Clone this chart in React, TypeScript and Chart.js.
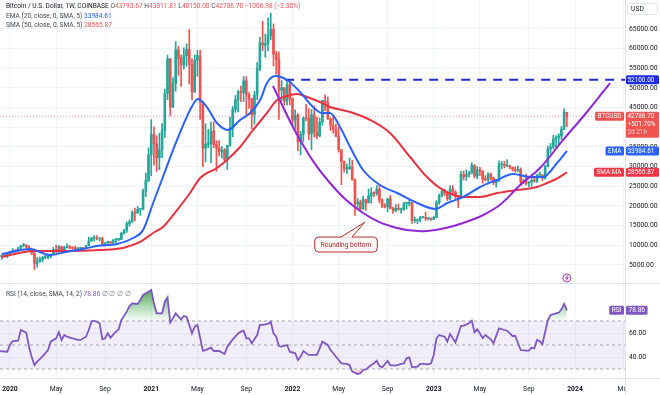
import React, { useEffect, useRef } from 'react';
import { Chart, registerables } from 'chart.js';

Chart.register(...registerables);

const FONT = "Roboto, 'Liberation Sans', Arial, sans-serif";

// Weekly candles, week index 0 = week of 2019-12-02 (Coinbase BTC/USD, 1W)
const closes = [
  7400, 7070, 7510, 7250, 7760, 8180, 8700, 8600, 9320, 9910,
  9930, 9660, 8530, 8030, 5360, 5830, 6420, 6870, 6900, 7130,
  7700, 8900, 8720, 9680, 8900, 9450, 9450, 9340, 9300, 9130,
  9250, 9250, 9170, 9930, 11050, 11850, 11910, 11660, 11710, 10280,
  10670, 10930, 10730, 11380, 11500, 11500, 13050, 13770, 15480, 15970,
  18410, 18180, 19150, 19250, 23840, 26470, 33000, 38200, 35800, 32280,
  34260, 39190, 48600, 57400, 45200, 51160, 59700, 57500, 55870, 58200,
  59800, 55970, 49000, 57000, 58240, 46420, 34700, 35700, 35800, 39100,
  35600, 34700, 33800, 34250, 31800, 35400, 39800, 44600, 47000, 49000,
  48800, 51800, 48300, 47300, 43200, 48200, 54900, 61500, 60900, 61300,
  63300, 64900, 58600, 57250, 49400, 50100, 46700, 50800, 47300, 41800,
  43100, 36300, 38200, 42400, 42200, 38350, 43200, 38800, 37800, 41300,
  46850, 46400, 42150, 40400, 39450, 37700, 34300, 31300, 29450, 29450,
  29900, 26600, 20550, 21000, 19300, 21600, 20800, 22600, 23300, 23200,
  24300, 21500, 20000, 19800, 21800, 19400, 18800, 19400, 19100, 19200,
  20600, 20600, 20900, 16300, 16300, 16450, 17100, 17100, 16800, 16850,
  16600, 17100, 20900, 22700, 23700, 23300, 21800, 24300, 23550, 22400,
  22100, 28000, 27500, 28000, 28300, 30300, 27600, 29200, 28900, 26900,
  26700, 28100, 27100, 25900, 26300, 30500, 30600, 30200, 30200, 29900,
  29300, 29000, 29300, 26100, 26000, 25800, 26100, 26500, 26300, 27900,
  27900, 27100, 30000, 34500, 35000, 37000, 37400, 37800, 39500, 43793.67,
  42786.7,
];
const highs = [
  7750, 7650, 7520, 7700, 7800, 8470, 9190, 8750, 9570, 9950,
  10500, 10250, 9950, 9180, 8180, 6940, 6990, 7200, 7470, 7290,
  7790, 9460, 10070, 9950, 9840, 9760, 10400, 9990, 9600, 9800,
  9380, 9480, 9330, 10000, 12100, 12000, 12480, 12470, 11800, 12090,
  10700, 11100, 10990, 11450, 11700, 11730, 13340, 14090, 15960, 16500,
  18800, 19480, 19920, 19420, 24300, 28400, 34800, 41950, 40100, 37850,
  38500, 40950, 49700, 58350, 57500, 52650, 61790, 60600, 58400, 60200,
  61200, 64850, 57500, 58400, 59600, 59600, 46600, 40900, 39500, 41300,
  41400, 36600, 36600, 35100, 34600, 35400, 42600, 45300, 48100, 49400,
  50500, 52900, 52900, 48800, 47300, 49200, 56500, 62900, 67000, 63700,
  67800, 69000, 66300, 59300, 59200, 51900, 49500, 52100, 52000, 47500,
  44450, 43500, 38950, 42600, 45850, 44750, 44500, 45400, 42600, 42400,
  46900, 48250, 47700, 42400, 42900, 40800, 40000, 34350, 31400, 30650,
  32200, 31600, 26900, 21900, 21500, 22500, 21600, 24300, 24650, 23600,
  25200, 25200, 21800, 20600, 21900, 22700, 19700, 20400, 20500, 19500,
  20900, 21000, 21500, 21000, 17200, 16700, 17400, 17400, 18400, 17000,
  16960, 17400, 21400, 23000, 23900, 24250, 23400, 25200, 25200, 23900,
  22600, 28800, 28900, 29200, 28800, 31000, 30500, 30000, 29800, 29000,
  27700, 28400, 28400, 27400, 26800, 31400, 31300, 31400, 31800, 30400,
  29600, 30000, 30200, 29700, 26800, 28100, 26200, 27400, 27500, 28000,
  28600, 27900, 30400, 35200, 35900, 37970, 37900, 38400, 40200, 44700,
  43811.81,
];
const lows = [
  7100, 7000, 6430, 7100, 6850, 7750, 8100, 8270, 8550, 9080,
  9620, 9300, 8450, 7640, 3850, 4450, 5670, 5860, 6620, 6550,
  6790, 7700, 8120, 8200, 8620, 8650, 9250, 9100, 9000, 8850,
  8950, 9100, 9060, 9140, 9900, 11100, 11100, 11360, 11120, 9880,
  9850, 10250, 10140, 10370, 10520, 11200, 11430, 12850, 13280, 14830,
  15800, 16200, 18200, 17600, 19000, 22400, 26100, 27700, 30400, 28800,
  29200, 32300, 37400, 47050, 43000, 45000, 49200, 53200, 50400, 54800,
  55500, 51000, 47000, 48800, 53000, 42000, 30000, 31200, 34800, 31000,
  34800, 28800, 32700, 32200, 31000, 29300, 35200, 37600, 43800, 43900,
  46500, 46600, 43000, 44800, 39600, 40800, 47000, 54400, 59500, 57800,
  59400, 62300, 55600, 53500, 42000, 46800, 45600, 45600, 45700, 40600,
  39600, 34000, 32950, 36300, 41600, 36800, 34300, 37500, 37100, 37600,
  40500, 44200, 42000, 39200, 38500, 37600, 33700, 25400, 28600, 28200,
  29300, 26600, 17600, 19600, 18600, 19100, 18900, 20800, 20700, 22400,
  22700, 20800, 19600, 19500, 18500, 19300, 18100, 18500, 18900, 18200,
  18900, 19200, 20000, 15600, 15800, 15500, 16000, 16900, 16300, 16400,
  16350, 16500, 17100, 20400, 22300, 22600, 21400, 21500, 22800, 21900,
  19600, 21900, 26600, 26500, 27300, 28300, 27200, 26950, 27700, 25800,
  26400, 26100, 26500, 25400, 24800, 26300, 29500, 29700, 29900, 29500,
  28900, 28600, 28700, 25200, 25700, 25300, 24900, 25000, 26000, 26000,
  27200, 26500, 26800, 29900, 33400, 34500, 34800, 35600, 36900, 39400,
  40150,
];
const FIRST_OPEN = 7550;

// Time axis
const tickWeeks = [5, 22, 40, 57, 74, 92, 109, 126, 144, 161, 178, 196, 213, 231];
const tickLabels = ['2020', 'May', 'Sep', '2021', 'May', 'Sep', '2022', 'May', 'Sep', '2023', 'May', 'Sep', '2024', 'May'];
const priceTicks = [5000, 10000, 15000, 20000, 25000, 30000, 35000, 40000, 45000, 50000, 55000, 60000, 65000];
const rsiTicks = [40, 60];

// EMA 20
const emaWeeks = [2, 12.4, 19.7, 26, 32, 37, 44.4, 50.3, 54, 57.7, 61.3, 66.5, 71.3, 74.2, 77.5, 81.2, 85.3, 89.7, 93.4, 97.1, 99.6, 102.6, 107, 111.8, 116.6, 119.9, 122.8, 126.5, 130.2, 135, 141.2, 147.5, 154.9, 161.5, 166, 171.8, 178.1, 184.3, 190.2, 196.5, 201.2, 206.4, 210];
const emaValues = [7800, 9070, 7540, 8380, 9070, 9830, 10340, 11860, 13900, 20760, 27370, 36780, 44400, 47200, 45160, 41100, 39320, 41860, 43640, 46940, 51260, 53040, 52030, 48980, 45160, 43640, 43640, 40080, 35000, 29150, 25340, 23300, 20760, 19240, 20760, 22290, 24830, 26610, 28130, 27370, 27370, 30930, 33984.61];

// SMA 50
const smaWeeks = [2, 13.5, 26, 38.1, 46.6, 52.9, 57.7, 61.3, 66.5, 71.3, 75, 81.2, 84.9, 89.7, 94.5, 99.6, 103.3, 107, 110.7, 114.4, 119.1, 122.8, 130.2, 137.6, 144.9, 152.3, 158.5, 164.4, 171.8, 178.1, 184.3, 191.7, 199, 202.7, 206.5, 210];
const smaValues = [7030, 8560, 8560, 8810, 9320, 10850, 13130, 14660, 18980, 23300, 27120, 29660, 31690, 35000, 39320, 43640, 46940, 47960, 48470, 47710, 46430, 45160, 43890, 41860, 38550, 32450, 27370, 24070, 22290, 22290, 23300, 24070, 24830, 25840, 27000, 28565.87];

// Hand-drawn "rounding bottom" arc
const arcWeeks = [101.8, 111.8, 122.8, 135, 147.5, 158.5, 171.8, 184.3, 192.8, 200.1, 208.6, 217.4, 225.9];
const arcValues = [50500, 36780, 25840, 18220, 14410, 13640, 15680, 19740, 25340, 29660, 36780, 43890, 51260];

// RSI 14
const rsiWeeks = [1, 4, 5, 6, 8, 9, 11, 12, 13, 14, 15, 17, 19, 20, 22, 23, 24, 25, 26, 28, 30, 31, 33, 34, 35, 36, 38, 39, 40, 41, 42, 44, 45, 46, 48, 49, 50, 52, 53, 54, 56, 57, 58, 59, 61, 62, 63, 64, 65, 66, 68, 69, 70, 72, 73, 74, 76, 77, 79, 80, 82, 84, 85, 87, 89, 90, 91, 92, 93, 94, 96, 97, 98, 100, 101, 102, 103, 104, 105, 107, 108, 110, 111, 112, 113, 115, 116, 118, 119, 120, 122, 123, 124, 126, 127, 129, 130, 131, 133, 134, 135, 136, 138, 139, 140, 141, 142, 144, 145, 147, 149, 150, 151, 152, 153, 155, 156, 157, 159, 160, 161, 162, 163, 165, 166, 167, 168, 169, 171, 172, 174, 175, 176, 177, 178, 179, 180, 182, 183, 185, 187, 188, 190, 191, 193, 195, 196, 197, 198, 199, 200, 201, 203, 204, 206, 207, 208, 209, 210];
const rsiValues = [45, 44.4, 50, 53.3, 53.6, 62.5, 60.3, 48.6, 40, 33.3, 36.1, 40.5, 45.8, 52.8, 55.6, 60.6, 54.2, 58.3, 56.9, 55.6, 54.2, 54.2, 56.9, 62.5, 69.4, 70.3, 68.1, 54.7, 55.6, 59.7, 56.1, 61.1, 63, 70.8, 77.8, 82.5, 84.7, 84.2, 87.5, 91.7, 94.4, 95.8, 84.7, 76.4, 76.4, 86.1, 89.7, 68.6, 72.2, 76.4, 71.4, 74.2, 73.6, 59.7, 65.3, 66.7, 45.3, 45.8, 47.8, 45, 45, 42.5, 48.6, 54.7, 59.7, 61.1, 61.9, 55.6, 55.6, 51.4, 58.3, 66.7, 66.7, 67.5, 69.4, 59.7, 56.9, 49.2, 48.6, 50, 44.4, 43.1, 37.5, 40.3, 45, 41.7, 41.7, 41.7, 47.2, 52.8, 50, 45.8, 43.1, 37.5, 34.7, 34.2, 33.3, 27.8, 25.8, 26.4, 29.2, 29.7, 33.3, 34.7, 36.9, 32.5, 31.4, 36.7, 33.3, 32.8, 34.2, 34.7, 38.9, 39.7, 31.4, 31.9, 34.2, 34.2, 33.9, 34.7, 41.7, 55.6, 58.3, 56.9, 52.8, 59.2, 55.6, 52.2, 65.8, 66.1, 68.1, 70.3, 60.6, 63.1, 59.7, 55.6, 58.3, 54.7, 51.4, 63.9, 62.5, 61.9, 57.5, 57.5, 45.8, 45.3, 45.3, 47.8, 47.2, 54.2, 53.3, 50.8, 70.8, 75, 76.4, 76.9, 79.7, 84.2, 78.86];

const RESISTANCE = 52100;
const RESISTANCE_START = 106.3;
const X_MIN = 1.33;
const X_MAX = 231.4;
const PRICE_MIN = 424;
const PRICE_MAX = 72363;
const RSI_MIN = 22.5;
const RSI_MAX = 100;
const RSI_BAND = [30, 50, 70];

const headerValues = ['43793.67', '43811.81', '40150.00', '42786.70', '−1006.98 (−2.30%)'];
const btcExtra = ['+501.70%', '2d 21h'];
const annotation = { week: 128.7, price: 10200, tipWeek: 135.7, tipPrice: 15900, text: 'Rounding bottom' };

const UP = '#26a69a';
const DOWN = '#ef5350';
const GRID = '#f0f3fa';
const EMA_C = '#2962ff';
const SMA_C = '#e8333e';
const RSI_C = '#7e57c2';

function rr(ctx: CanvasRenderingContext2D, x: number, y: number, w: number, h: number, r: number) {
  ctx.beginPath();
  ctx.moveTo(x + r, y);
  ctx.lineTo(x + w - r, y);
  ctx.quadraticCurveTo(x + w, y, x + w, y + r);
  ctx.lineTo(x + w, y + h - r);
  ctx.quadraticCurveTo(x + w, y + h, x + w - r, y + h);
  ctx.lineTo(x + r, y + h);
  ctx.quadraticCurveTo(x, y + h, x, y + h - r);
  ctx.lineTo(x, y + r);
  ctx.quadraticCurveTo(x, y, x + r, y);
  ctx.closePath();
}

const pts = (xs: number[], ys: number[]) => xs.map((x, i) => ({ x, y: ys[i] }));

export default function App() {
  const mainRef = useRef<HTMLCanvasElement>(null);
  const rsiRef = useRef<HTMLCanvasElement>(null);

  useEffect(() => {
    document.body.style.margin = '0';
    const last = closes.length - 1;
    const weeks = closes.map((_, i) => i);
    const opens = closes.map((c, i) => (i === 0 ? FIRST_OPEN : closes[i - 1]));
    const colors = closes.map((c, i) => (c >= opens[i] ? UP : DOWN));

    const priceTags = [
      { value: RESISTANCE, lines: [RESISTANCE.toFixed(2)], bg: '#1b2de0', name: '' },
      { value: closes[last], lines: [closes[last].toFixed(2), ...btcExtra], bg: '#f05350', name: 'BTCUSD' },
      { value: emaValues[emaValues.length - 1], lines: [emaValues[emaValues.length - 1].toFixed(2)], bg: EMA_C, name: 'EMA' },
      { value: smaValues[smaValues.length - 1], lines: [smaValues[smaValues.length - 1].toFixed(2)], bg: '#f23645', name: 'SMA:MA' },
    ];

    const mainPlugin = {
      id: 'mainDecor',
      afterDraw(chart: any) {
        const { ctx, chartArea, scales } = chart;
        const x = scales.x, y = scales.y;
        const W = chart.width;
        ctx.save();
        // annotation
        const cx = x.getPixelForValue(annotation.week);
        const cy = y.getPixelForValue(annotation.price);
        ctx.font = `6.6px ${FONT}`;
        const tw = ctx.measureText(annotation.text).width;
        const bw = tw + 12, bh = 15;
        const left = cx - bw / 2, top = cy - bh / 2;
        const tx = x.getPixelForValue(annotation.tipWeek), ty = y.getPixelForValue(annotation.tipPrice);
        ctx.lineWidth = 1;
        ctx.strokeStyle = '#b3312f';
        ctx.fillStyle = '#fff6f5';
        rr(ctx, left, top, bw, bh, 4);
        ctx.fill();
        ctx.stroke();
        ctx.beginPath();
        ctx.moveTo(cx - 5, top + 0.8);
        ctx.lineTo(tx, ty);
        ctx.lineTo(cx + 6, top + 0.8);
        ctx.closePath();
        ctx.fill();
        ctx.beginPath();
        ctx.moveTo(cx - 5, top);
        ctx.lineTo(tx, ty);
        ctx.lineTo(cx + 6, top);
        ctx.stroke();
        ctx.fillStyle = '#a52a2a';
        ctx.textAlign = 'center';
        ctx.textBaseline = 'middle';
        ctx.fillText(annotation.text, cx, cy + 0.5);

        // event marker
        const mx = x.getPixelForValue(last);
        const my = chartArea.bottom - 5;
        ctx.beginPath();
        ctx.arc(mx, my, 4, 0, Math.PI * 2);
        ctx.fillStyle = '#fff';
        ctx.fill();
        ctx.strokeStyle = '#9c27b0';
        ctx.lineWidth = 0.9;
        ctx.stroke();
        ctx.beginPath();
        ctx.moveTo(mx + 0.8, my - 2.6);
        ctx.lineTo(mx - 1.2, my + 0.3);
        ctx.lineTo(mx + 1.2, my - 0.3);
        ctx.lineTo(mx - 0.8, my + 2.6);
        ctx.stroke();

        // price tags
        ctx.font = `6.4px ${FONT}`;
        ctx.textAlign = 'left';
        for (const t of priceTags) {
          const py = y.getPixelForValue(t.value);
          const lh = 8;
          const h = t.lines.length === 1 ? 9 : t.lines.length * lh + 2;
          const tp = py - 4.5;
          ctx.fillStyle = t.bg;
          rr(ctx, chartArea.right + 1, tp, W - chartArea.right - 2, h, 1.5);
          ctx.fill();
          t.lines.forEach((s: string, i: number) => {
            ctx.fillStyle = i === 2 ? 'rgba(255,255,255,0.75)' : '#ffffff';
            ctx.fillText(s, chartArea.right + 2.5, tp + 4.8 + i * lh);
          });
          if (t.name) {
            const w = ctx.measureText(t.name).width + 5;
            ctx.fillStyle = t.bg;
            rr(ctx, chartArea.right - 1 - w, tp, w, 9, 1.5);
            ctx.fill();
            ctx.fillStyle = '#ffffff';
            ctx.fillText(t.name, chartArea.right - 1 - w + 2.5, tp + 4.8);
          }
        }
        // currency box
        ctx.font = `6.8px ${FONT}`;
        ctx.fillStyle = '#ffffff';
        ctx.strokeStyle = '#e0e3eb';
        rr(ctx, chartArea.right + 2.5, 3.5, 30, 11, 2);
        ctx.fill();
        ctx.stroke();
        ctx.fillStyle = '#131722';
        ctx.fillText('USD', chartArea.right + 6, 9.3);
        ctx.restore();
      },
    };

    const rsiLast = rsiValues[rsiValues.length - 1];
    const rsiPlugin = {
      id: 'rsiDecor',
      afterDraw(chart: any) {
        const { ctx, chartArea, scales } = chart;
        const y = scales.y;
        const W = chart.width, H = chart.height;
        ctx.save();
        ctx.fillStyle = '#ffffff';
        ctx.fillRect(chartArea.right + 0.5, chartArea.bottom + 1, W, H);
        ctx.strokeStyle = '#e0e3eb';
        ctx.lineWidth = 1;
        ctx.beginPath();
        ctx.moveTo(chartArea.right + 0.5, chartArea.bottom);
        ctx.lineTo(chartArea.right + 0.5, H);
        ctx.moveTo(chartArea.right, chartArea.bottom + 0.5);
        ctx.lineTo(W, chartArea.bottom + 0.5);
        ctx.stroke();
        const py = y.getPixelForValue(rsiLast);
        ctx.font = `6.6px ${FONT}`;
        ctx.textBaseline = 'middle';
        ctx.textAlign = 'left';
        const val = rsiLast.toFixed(2);
        const vw = ctx.measureText(val).width + 5;
        ctx.fillStyle = RSI_C;
        rr(ctx, chartArea.right + 1, py - 4.5, vw, 9, 1.5);
        ctx.fill();
        const nw = ctx.measureText('RSI').width + 5;
        rr(ctx, chartArea.right - 1 - nw, py - 4.5, nw, 9, 1.5);
        ctx.fill();
        ctx.fillStyle = '#ffffff';
        ctx.fillText(val, chartArea.right + 3.5, py + 0.3);
        ctx.fillText('RSI', chartArea.right - 1 - nw + 2.5, py + 0.3);
        ctx.restore();
      },
    };

    const xCommon = {
      type: 'linear' as const,
      min: X_MIN,
      max: X_MAX,
      offset: false,
      afterBuildTicks: (s: any) => {
        s.ticks = tickWeeks.map((v) => ({ value: v }));
      },
    };

    const main = new Chart(mainRef.current as HTMLCanvasElement, {
      type: 'bar',
      data: {
        datasets: [
          {
            type: 'line', data: pts(arcWeeks, arcValues), borderColor: '#9226d8', borderWidth: 2,
            pointRadius: 0, tension: 0.4, order: 0,
          } as any,
          {
            type: 'line', data: pts(emaWeeks, emaValues), borderColor: EMA_C, borderWidth: 2,
            pointRadius: 0, cubicInterpolationMode: 'monotone', order: 1,
          },
          {
            type: 'line', data: pts(smaWeeks, smaValues), borderColor: SMA_C, borderWidth: 2,
            pointRadius: 0, cubicInterpolationMode: 'monotone', order: 2,
          },
          {
            type: 'line', data: [{ x: RESISTANCE_START, y: RESISTANCE }, { x: X_MAX, y: RESISTANCE }],
            borderColor: '#1f2bd9', borderWidth: 2, borderDash: [9, 7], pointRadius: 0, order: 3,
          },
          {
            type: 'line', data: [{ x: X_MIN, y: closes[last] }, { x: X_MAX, y: closes[last] }],
            borderColor: 'rgba(242,54,69,0.45)', borderWidth: 1, borderDash: [1, 2], pointRadius: 0, order: 4,
          },
          {
            type: 'bar', data: weeks.map((w, i) => ({ x: w, y: [opens[i], closes[i]] })) as any,
            backgroundColor: colors, barThickness: 2, grouped: false, minBarLength: 1, order: 5,
          },
          {
            type: 'bar', data: weeks.map((w, i) => ({ x: w, y: [lows[i], highs[i]] })) as any,
            backgroundColor: colors, barThickness: 1, grouped: false, order: 6,
          },
        ] as any,
      },
      options: {
        animation: false,
        responsive: false,
        maintainAspectRatio: false,
        layout: { padding: 0 },
        plugins: { legend: { display: false }, tooltip: { enabled: false } },
        scales: {
          x: {
            ...xCommon,
            ticks: { display: false },
            grid: { color: GRID, drawTicks: false, offset: false },
            border: { display: false },
            afterFit: (s: any) => { s.height = 0; s.paddingLeft = 0; s.paddingRight = 0; },
          },
          y: {
            type: 'linear',
            position: 'right',
            min: PRICE_MIN,
            max: PRICE_MAX,
            beginAtZero: false,
            afterBuildTicks: (s: any) => { s.ticks = priceTicks.map((v) => ({ value: v })); },
            ticks: {
              callback: (v: any) => Number(v).toFixed(2),
              font: { size: 6.8, family: FONT },
              color: '#131722',
              padding: 4,
            },
            grid: { color: GRID, drawTicks: false },
            border: { display: true, color: '#e0e3eb' },
            afterFit: (s: any) => { s.width = 35; s.paddingTop = 0; s.paddingBottom = 0; },
          },
        },
      } as any,
      plugins: [mainPlugin],
    });

    const rsiPts = pts(rsiWeeks, rsiValues);
    const flat = (v: number) => [{ x: X_MIN, y: v }, { x: X_MAX, y: v }];
    const rsi = new Chart(rsiRef.current as HTMLCanvasElement, {
      type: 'line',
      data: {
        datasets: [
          {
            data: rsiPts, borderColor: RSI_C, borderWidth: 1.8, pointRadius: 0, order: 0,
            fill: { target: { value: RSI_BAND[2] }, below: 'rgba(0,0,0,0)' },
            backgroundColor: (c: any) => {
              const ch = c.chart;
              if (!ch.chartArea) return 'rgba(76,175,80,0.4)';
              const ys = ch.scales.y;
              const g = ch.ctx.createLinearGradient(0, ys.getPixelForValue(RSI_MAX), 0, ys.getPixelForValue(RSI_BAND[2]));
              g.addColorStop(0, 'rgba(46,150,60,1)');
              g.addColorStop(1, 'rgba(76,175,80,0.03)');
              return g;
            },
          },
          {
            data: rsiPts, borderWidth: 0, pointRadius: 0, order: 1,
            fill: { target: { value: RSI_BAND[0] }, above: 'rgba(0,0,0,0)' },
            backgroundColor: (c: any) => {
              const ch = c.chart;
              if (!ch.chartArea) return 'rgba(242,54,69,0.4)';
              const ys = ch.scales.y;
              const g = ch.ctx.createLinearGradient(0, ys.getPixelForValue(RSI_BAND[0]), 0, ys.getPixelForValue(RSI_MIN));
              g.addColorStop(0, 'rgba(242,54,69,0.03)');
              g.addColorStop(1, 'rgba(242,54,69,0.9)');
              return g;
            },
          },
          { data: flat(RSI_BAND[1]), borderColor: '#a3a6af', borderWidth: 1, borderDash: [3, 3], pointRadius: 0, order: 2 },
          { data: flat(RSI_BAND[0]), borderColor: '#a3a6af', borderWidth: 1, borderDash: [3, 3], pointRadius: 0, order: 3 },
          {
            data: flat(RSI_BAND[2]), borderColor: '#a3a6af', borderWidth: 1, borderDash: [3, 3], pointRadius: 0, order: 4,
            fill: { target: { value: RSI_BAND[0] } }, backgroundColor: 'rgba(126,87,194,0.1)',
          },
        ] as any,
      },
      options: {
        animation: false,
        responsive: false,
        maintainAspectRatio: false,
        layout: { padding: 0 },
        plugins: { legend: { display: false }, tooltip: { enabled: false } },
        scales: {
          x: {
            ...xCommon,
            ticks: {
              autoSkip: false,
              maxRotation: 0,
              minRotation: 0,
              padding: 7,
              color: '#131722',
              callback: (_v: any, i: number) => tickLabels[i],
              font: (c: any) => ({ size: 6.8, family: FONT, weight: /^\d/.test(tickLabels[c.index] || '') ? 'bold' : 'normal' }),
            },
            grid: { color: GRID, drawTicks: false, offset: false },
            border: { display: true, color: '#e0e3eb' },
            afterFit: (s: any) => { s.height = 17; s.paddingLeft = 0; s.paddingRight = 0; },
          },
          y: {
            type: 'linear',
            position: 'right',
            min: RSI_MIN,
            max: RSI_MAX,
            afterBuildTicks: (s: any) => { s.ticks = rsiTicks.map((v) => ({ value: v })); },
            ticks: {
              callback: (v: any) => Number(v).toFixed(2),
              font: { size: 6.8, family: FONT },
              color: '#131722',
              padding: 4,
            },
            grid: { color: GRID, drawTicks: false },
            border: { display: true, color: '#e0e3eb' },
            afterFit: (s: any) => { s.width = 35; s.paddingTop = 0; s.paddingBottom = 0; },
          },
        },
      } as any,
      plugins: [rsiPlugin],
    });

    return () => {
      main.destroy();
      rsi.destroy();
    };
  }, []);

  const txt: React.CSSProperties = { position: 'absolute', left: 6, fontSize: '6.6px', lineHeight: '9px', fontFamily: FONT, color: '#434651', whiteSpace: 'nowrap' };
  const red = { color: '#ef5350' };

  return (
    <div style={{ position: 'absolute', left: 0, top: 0, width: 660, height: 395, background: '#ffffff', overflow: 'hidden' }}>
      <canvas ref={mainRef} width={660} height={283} style={{ position: 'absolute', left: 0, top: 0, width: 660, height: 283 }} />
      <div style={{ position: 'absolute', left: 0, top: 283, width: 660, height: 1, background: '#e0e3eb' }} />
      <canvas ref={rsiRef} width={660} height={110} style={{ position: 'absolute', left: 0, top: 285, width: 660, height: 110 }} />
      <div style={{ ...txt, top: 2 }}>
        <span style={{ color: '#131722' }}>Bitcoin / U.S. Dollar, 1W, COINBASE</span>
        {' '}O<span style={red}>{headerValues[0]}</span>
        {' '}H<span style={red}>{headerValues[1]}</span>
        {' '}L<span style={red}>{headerValues[2]}</span>
        {' '}C<span style={red}>{headerValues[3]}</span>
        {' '}<span style={red}>{headerValues[4]}</span>
      </div>
      <div style={{ ...txt, top: 11.5 }}>
        EMA (20, close, 0, SMA, 5) <span style={{ color: EMA_C }}>{emaValues[emaValues.length - 1].toFixed(2)}</span>
      </div>
      <div style={{ ...txt, top: 21 }}>
        SMA (50, close, 0, SMA, 5) <span style={red}>{smaValues[smaValues.length - 1].toFixed(2)}</span>
      </div>
      <div style={{ ...txt, top: 289.5 }}>
        RSI (14, close, SMA, 14, 2) <span style={{ color: RSI_C }}>{rsiValues[rsiValues.length - 1].toFixed(2)}</span>
        <span style={{ color: '#787b86' }}>{'  ∅  ∅  ∅  ∅'}</span>
      </div>
    </div>
  );
}
